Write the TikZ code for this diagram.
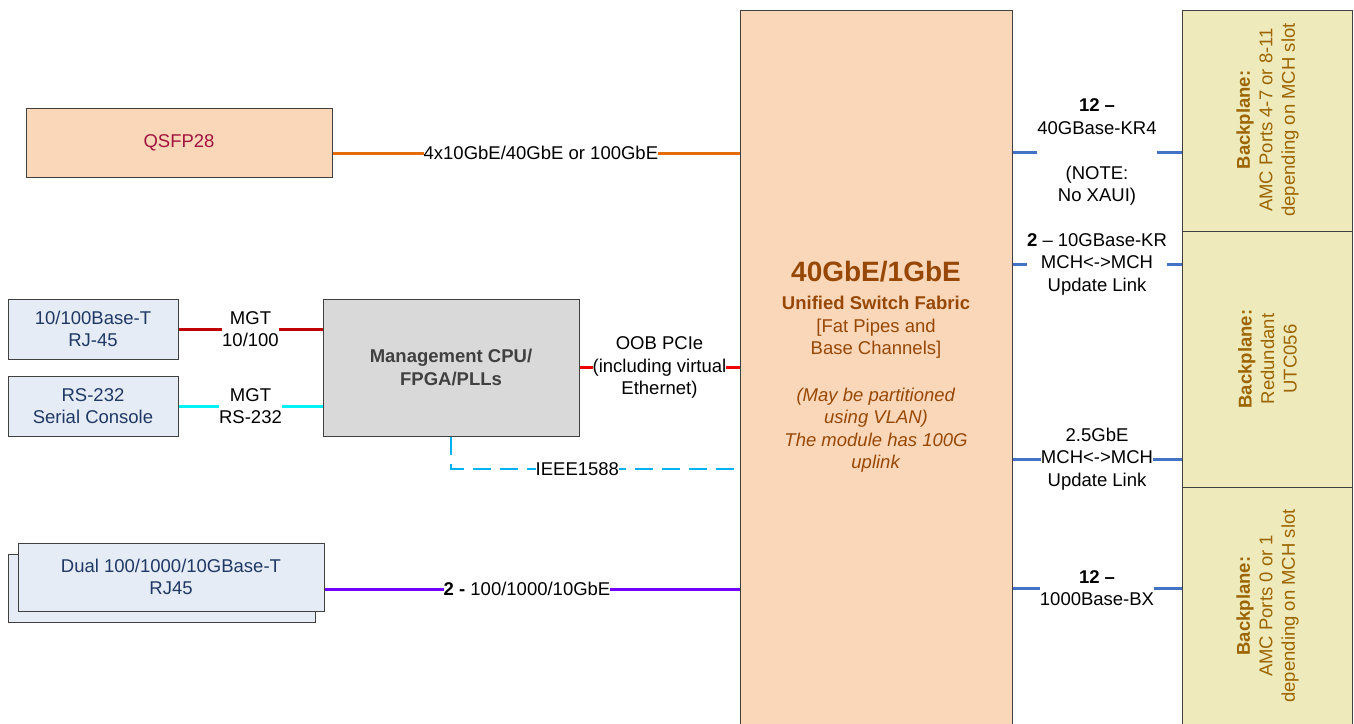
\documentclass[tikz,border=0pt]{standalone}
\usepackage{fontspec}
\setmainfont{Liberation Sans}
\definecolor{peach}{HTML}{FBD7BA}
\definecolor{fabtxt}{HTML}{974806}
\definecolor{bpfill}{HTML}{EEEABB}
\definecolor{bptxt}{HTML}{9C6500}
\definecolor{lbfill}{HTML}{E6ECF6}
\definecolor{lbtxt}{HTML}{1F3864}
\definecolor{mgfill}{HTML}{D9D9D9}
\definecolor{mgtxt}{HTML}{404040}
\definecolor{qtxt}{HTML}{A0153E}
\definecolor{orng}{HTML}{E46C0A}
\definecolor{dred}{HTML}{C00000}
\definecolor{bred}{HTML}{EE0000}
\definecolor{cyn}{HTML}{00F0F8}
\definecolor{dsh}{HTML}{00B0F0}
\definecolor{purp}{HTML}{7000FF}
\definecolor{blu}{HTML}{4472C4}
\definecolor{edgec}{HTML}{404040}
\newcommand\myfs{\fontsize{18.5}{22.5}\selectfont}
\begin{document}
\begin{tikzpicture}[x=1pt,y=-1pt,
  boxn/.style={draw=edgec, line width=1pt, inner sep=0pt, align=center, font=\myfs},
  lbl/.style={fill=white, inner sep=0pt, align=center, font=\myfs, text=black},
  conn/.style={line width=3pt}]
\clip (0,0) rectangle (1354,723);
\fill[white] (0,0) rectangle (1354,723);
% boxes
\node[boxn, fill=peach, minimum width=272pt, minimum height=720pt] (fabric) at (876,370) {};
\node[boxn, fill=bpfill, minimum width=170pt, minimum height=221pt] (bp1) at (1267,120.5) {};
\node[boxn, fill=bpfill, minimum width=170pt, minimum height=256pt] (bp2) at (1267,359) {};
\node[boxn, fill=bpfill, minimum width=170pt, minimum height=243pt] (bp3) at (1267,608.5) {};
\node[boxn, fill=peach, text=qtxt, minimum width=306pt, minimum height=69pt] (qsfp) at (179,142.5) {QSFP28};
\node[boxn, fill=lbfill, text=lbtxt, minimum width=170pt, minimum height=60pt] (rj) at (93,329) {10/100Base-T\\RJ-45};
\node[boxn, fill=lbfill, text=lbtxt, minimum width=170pt, minimum height=60pt] (rs) at (93,406) {RS-232\\Serial Console};
\node[boxn, fill=mgfill, text=mgtxt, font=\myfs\bfseries, minimum width=256pt, minimum height=137pt] (mgmt) at (451,367.5) {Management CPU/\\FPGA/PLLs};
\node[boxn, fill=lbfill, minimum width=307pt, minimum height=68pt] (dualsh) at (161.5,588) {};
\node[boxn, fill=lbfill, text=lbtxt, minimum width=306pt, minimum height=68pt] (dual) at (171,577) {Dual 100/1000/10GBase-T\\RJ45};
% texts inside fabric and backplanes
\node[align=center, text=fabtxt, font=\myfs, inner sep=0pt] (fabtext) at (876,367)
  {{\fontsize{28}{32}\selectfont\bfseries 40GbE/1GbE}\\[6pt]
   {\bfseries Unified Switch Fabric}\\
   {[}Fat Pipes and\\
   Base Channels{]}\\[24pt]
   \textit{(May be partitioned}\\
   \textit{using VLAN)}\\
   \textit{The module has 100G}\\
   \textit{uplink}};
\node[rotate=90, align=center, text=bptxt, font=\myfs, inner sep=0pt] (bp1t) at (1267.5,120)
  {\textbf{Backplane:}\\AMC Ports 4-7 or 8-11\\depending on MCH slot};
\node[rotate=90, align=center, text=bptxt, font=\myfs, inner sep=0pt] (bp2t) at (1267.5,359)
  {\textbf{Backplane:}\\Redundant\\UTC056};
\node[rotate=90, align=center, text=bptxt, font=\myfs, inner sep=0pt] (bp3t) at (1267.5,606)
  {\textbf{Backplane:}\\AMC Ports 0 or 1\\depending on MCH slot};
% connectors left
\draw[conn, orng] (qsfp.east |- 0,153) -- node[lbl, pos=0.512] (ql) {4x10GbE/40GbE or 100GbE} (fabric.west |- 0,153);
\draw[conn, dred] (rj.east) -- node[lbl] (rjl) {MGT\\10/100} (mgmt.west |- rj.east);
\draw[conn, cyn] (rs.east) -- node[lbl] (rsl) {MGT\\RS-232} (mgmt.west |- rs.east);
\draw[conn, bred] (mgmt.east) -- node[lbl] (oobl) {OOB PCIe\\(including virtual\\Ethernet)} (fabric.west |- mgmt.east);
\draw[dsh, line width=2.5pt, dash pattern=on 18pt off 9pt] (mgmt.south) |- node[lbl, pos=0.719] (ieee) {IEEE1588} (fabric.west |- 0,469);
\draw[conn, purp] (dual.east |- 0,589) -- node[lbl, pos=0.488] (dl) {\textbf{2 -} 100/1000/10GbE} (fabric.west |- 0,589);
% connectors right
\draw[conn, blu] (fabric.east |- 0,152) -- node[lbl] (r1) {\textbf{12 –}\\40GBase-KR4\\[22.5pt](NOTE:\\No XAUI)} (bp1.west |- 0,152);
\draw[conn, blu] (fabric.east |- 0,264) -- node[lbl] (r2) {\textbf{2} – 10GBase-KR\\MCH<->MCH\\Update Link} (bp2.west |- 0,264);
\draw[conn, blu] (fabric.east |- 0,459) -- node[lbl] (r3) {2.5GbE\\MCH<->MCH\\Update Link} (bp2.west |- 0,459);
\draw[conn, blu] (fabric.east |- 0,588) -- node[lbl] (r4) {\textbf{12 –}\\1000Base-BX} (bp3.west |- 0,588);
\end{tikzpicture}
\end{document}
